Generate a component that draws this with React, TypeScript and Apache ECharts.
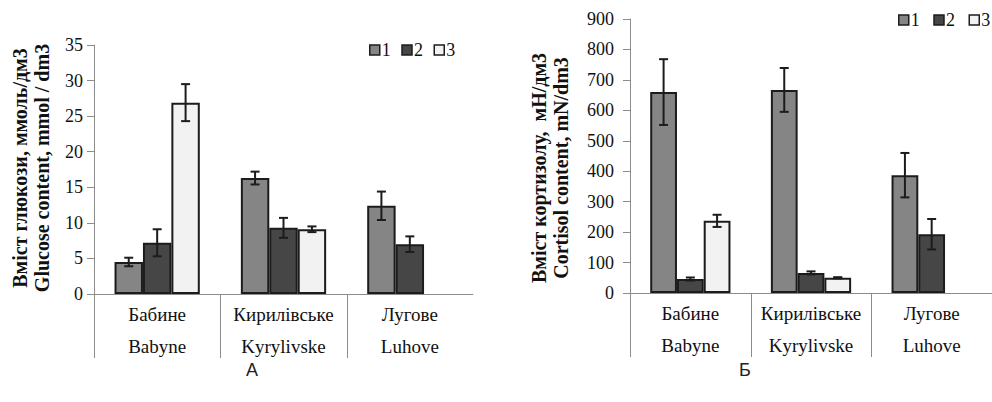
import React, { useEffect, useRef } from "react";
import * as echarts from "echarts";

const categories = ["Бабине\nBabyne", "Кирилівське\nKyrylivske", "Лугове\nLuhove"];
const seriesNames = ["1", "2", "3"];

const glucose1 = [4.5, 16.3, 12.4];
const glucose2 = [7.2, 9.3, 7.0];
const glucose3: (number | null)[] = [26.9, 9.1, null];
const glucoseErr1 = [0.6, 0.9, 2.0];
const glucoseErr2 = [1.9, 1.4, 1.1];
const glucoseErr3: (number | null)[] = [2.6, 0.4, null];

const cortisol1 = [660, 667, 387];
const cortisol2 = [46, 66, 193];
const cortisol3: (number | null)[] = [237, 50, null];
const cortisolErr1 = [108, 72, 73];
const cortisolErr2 = [5, 5, 50];
const cortisolErr3: (number | null)[] = [20, 2, null];

const glucoseAxis = { min: 0, max: 35, interval: 5 };
const cortisolAxis = { min: 0, max: 900, interval: 100 };

const glucoseTitle = "Вміст глюкози, ммоль/дм3\nGlucose content, mmol / dm3";
const cortisolTitle = "Вміст кортизолу,  мН/дм3\nCortisol content, mN/dm3";
const panelLabels = ["А", "Б"];

const barColors = ["#858585", "#464646", "#f2f2f2"];
const SERIF = "Liberation Serif";
const SANS = "Liberation Sans";
const AXIS_GRAY = "#8c8c8c";
const DARK = "#1c1c1c";

function buildPanel(
  k: number,
  values: (number | null)[][],
  errors: (number | null)[][],
  gapFrac: number
) {
  const series: any[] = [];
  values.forEach((vals, s) => {
    series.push({
      type: "bar",
      name: seriesNames[s],
      xAxisIndex: k,
      yAxisIndex: k,
      data: vals,
      barGap: "0%",
      barCategoryGap: `${gapFrac * 100}%`,
      itemStyle: { color: barColors[s], borderColor: DARK, borderWidth: 2 },
      z: 2,
    });
  });
  values.forEach((vals, s) => {
    const data: number[][] = [];
    vals.forEach((v, i) => {
      const e = errors[s][i];
      if (v != null && e != null) data.push([i, v - e, v + e]);
    });
    series.push({
      type: "custom",
      xAxisIndex: k,
      yAxisIndex: k,
      data,
      encode: { x: 0, y: [1, 2] },
      silent: true,
      z: 5,
      renderItem: (params: any, api: any) => {
        const i = api.value(0);
        const lo = api.value(1);
        const hi = api.value(2);
        const catW = api.size([1, 0])[0];
        const bw = (catW * (1 - gapFrac)) / 3;
        const cHi = api.coord([i, hi]);
        const cLo = api.coord([i, lo]);
        const x = cHi[0] + (s - 1) * bw;
        const half = 4.5;
        const style = { stroke: DARK, lineWidth: 2, fill: null };
        return {
          type: "group",
          children: [
            { type: "line", shape: { x1: x, y1: cHi[1], x2: x, y2: cLo[1] }, style },
            { type: "line", shape: { x1: x - half, y1: cHi[1], x2: x + half, y2: cHi[1] }, style },
            { type: "line", shape: { x1: x - half, y1: cLo[1], x2: x + half, y2: cLo[1] }, style },
          ],
        };
      },
    });
  });
  // category separators below the axis
  series.push({
    type: "custom",
    xAxisIndex: k,
    yAxisIndex: k,
    data: categories.map((_, i) => [i, 0]),
    encode: { x: 0, y: 1 },
    silent: true,
    clip: false,
    z: 1,
    renderItem: (params: any, api: any) => {
      const i = api.value(0);
      const c = api.coord([i, 0]);
      const w = api.size([1, 0])[0];
      const x = Math.round(c[0] - w / 2) + 0.5;
      return {
        type: "line",
        shape: { x1: x, y1: c[1], x2: x, y2: c[1] + 64 },
        style: { stroke: AXIS_GRAY, lineWidth: 1 },
      };
    },
  });
  return series;
}

function yAxisFor(k: number, ax: { min: number; max: number; interval: number }, margin: number) {
  return {
    type: "value",
    gridIndex: k,
    min: ax.min,
    max: ax.max,
    interval: ax.interval,
    axisLine: { show: true, lineStyle: { color: AXIS_GRAY, width: 1 } },
    axisTick: { show: true, length: 7, inside: false, lineStyle: { color: AXIS_GRAY } },
    splitLine: { show: false },
    axisLabel: { fontFamily: SERIF, fontSize: 18, color: "#111", margin },
  };
}

function xAxisFor(k: number) {
  return {
    type: "category",
    gridIndex: k,
    data: categories,
    axisLine: { show: true, lineStyle: { color: AXIS_GRAY, width: 1 } },
    axisTick: { show: false },
    axisLabel: {
      fontFamily: SERIF,
      fontSize: 19,
      color: "#111",
      lineHeight: 32,
      margin: 4,
      interval: 0,
    },
  };
}

function legendFor(left: number, top: number, gap: number) {
  return {
    data: seriesNames,
    left,
    top,
    orient: "horizontal",
    icon: "rect",
    itemWidth: 10,
    itemHeight: 10,
    itemGap: gap,
    padding: 0,
    selectedMode: false,
    itemStyle: { borderColor: DARK, borderWidth: 1.5 },
    textStyle: { fontFamily: SERIF, fontSize: 18, color: "#111", padding: [0, 0, 0, -3] },
  };
}

export default function App() {
  const ref = useRef<HTMLDivElement>(null);
  useEffect(() => {
    if (!ref.current) return;
    const chart = echarts.init(ref.current, null, { renderer: "svg" });
    const option: any = {
      animation: false,
      backgroundColor: "#ffffff",
      textStyle: { fontFamily: SERIF },
      grid: [
        { left: 94, top: 45, width: 379, height: 249, containLabel: false },
        { left: 630, top: 19, width: 367, height: 274, containLabel: false },
      ],
      legend: [legendFor(369, 41, 10.5), legendFor(898, 11, 13.5)],
      xAxis: [xAxisFor(0), xAxisFor(1)],
      yAxis: [yAxisFor(0, glucoseAxis, 11), yAxisFor(1, cortisolAxis, 16)],
      series: [
        ...buildPanel(0, [glucose1, glucose2, glucose3], [glucoseErr1, glucoseErr2, glucoseErr3], 0.325),
        ...buildPanel(1, [cortisol1, cortisol2, cortisol3], [cortisolErr1, cortisolErr2, cortisolErr3], 0.335),
      ],
      graphic: [
        {
          type: "text",
          x: 31,
          y: 168,
          rotation: Math.PI / 2,
          style: {
            text: glucoseTitle,
            fontFamily: SERIF,
            fontWeight: "bold",
            fontSize: 20,
            lineHeight: 22,
            fill: "#111",
            textAlign: "center",
            textVerticalAlign: "middle",
          },
        },
        {
          type: "text",
          x: 550,
          y: 168,
          rotation: Math.PI / 2,
          style: {
            text: cortisolTitle,
            fontFamily: SERIF,
            fontWeight: "bold",
            fontSize: 20,
            lineHeight: 22,
            fill: "#111",
            textAlign: "center",
            textVerticalAlign: "middle",
          },
        },
        {
          type: "text",
          x: 252,
          y: 370,
          style: {
            text: panelLabels[0],
            fontFamily: SANS,
            fontSize: 18,
            fill: "#222",
            textAlign: "center",
            textVerticalAlign: "middle",
          },
        },
        {
          type: "text",
          x: 745,
          y: 370,
          style: {
            text: panelLabels[1],
            fontFamily: SANS,
            fontSize: 18,
            fill: "#222",
            textAlign: "center",
            textVerticalAlign: "middle",
          },
        },
      ],
    };
    chart.setOption(option);
    return () => chart.dispose();
  }, []);
  return (
    <div
      ref={ref}
      style={{ position: "fixed", left: 0, top: 0, width: 992, height: 402, background: "#fff" }}
    />
  );
}
